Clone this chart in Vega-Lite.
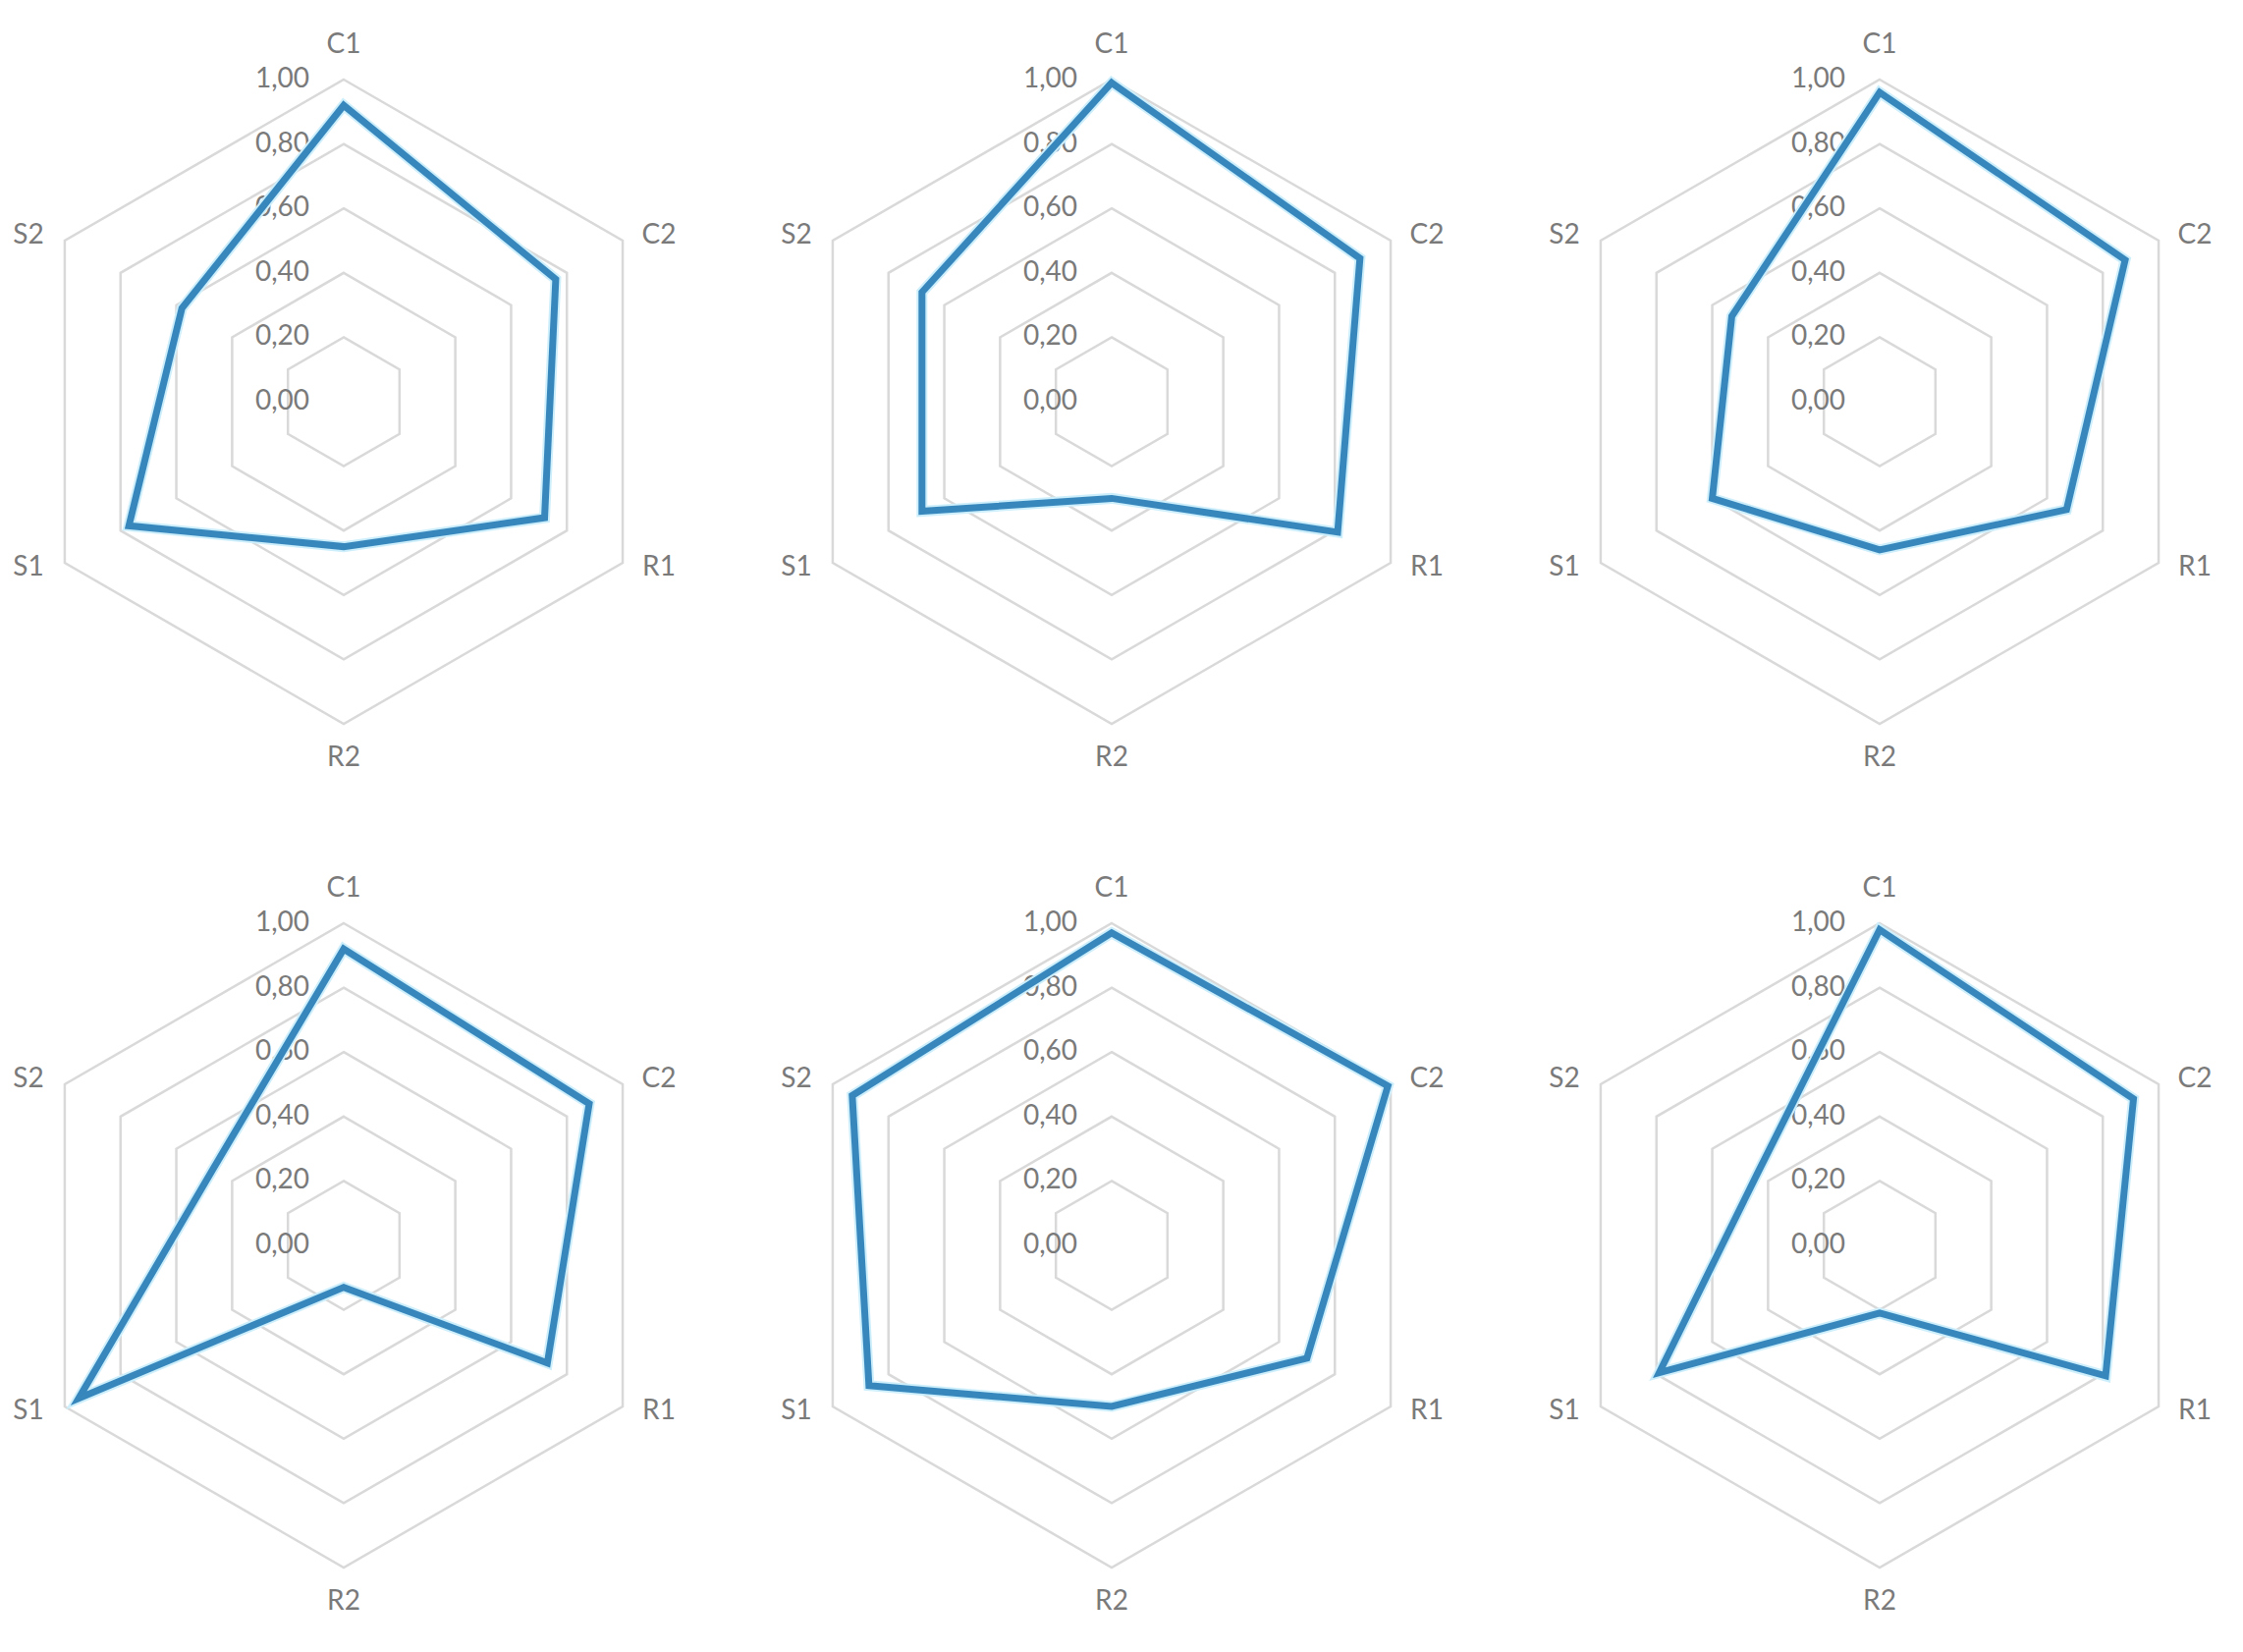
{
  "$schema": "https://vega.github.io/schema/vega-lite/v6.json",
  "padding": {"left": 0, "top": 18, "right": 0, "bottom": 0},
  "background": "white",
  "config": {"view": {"stroke": null}, "font": "Lato", "header": {"labels": false, "title": null, "labelPadding": 0, "titlePadding": 0, "labelFontSize": 0.01, "labelColor": "transparent", "labelExpr": "''"}},
  "datasets": {
    "scores": [
      {"panel": 1, "axis": "C1", "value": 0.92}, {"panel": 1, "axis": "C2", "value": 0.76}, {"panel": 1, "axis": "R1", "value": 0.72},
      {"panel": 1, "axis": "R2", "value": 0.45}, {"panel": 1, "axis": "S1", "value": 0.77}, {"panel": 1, "axis": "S2", "value": 0.58},
      {"panel": 2, "axis": "C1", "value": 0.99}, {"panel": 2, "axis": "C2", "value": 0.89}, {"panel": 2, "axis": "R1", "value": 0.81},
      {"panel": 2, "axis": "R2", "value": 0.30}, {"panel": 2, "axis": "S1", "value": 0.68}, {"panel": 2, "axis": "S2", "value": 0.68},
      {"panel": 3, "axis": "C1", "value": 0.96}, {"panel": 3, "axis": "C2", "value": 0.88}, {"panel": 3, "axis": "R1", "value": 0.67},
      {"panel": 3, "axis": "R2", "value": 0.46}, {"panel": 3, "axis": "S1", "value": 0.60}, {"panel": 3, "axis": "S2", "value": 0.53},
      {"panel": 4, "axis": "C1", "value": 0.92}, {"panel": 4, "axis": "C2", "value": 0.88}, {"panel": 4, "axis": "R1", "value": 0.73},
      {"panel": 4, "axis": "R2", "value": 0.13}, {"panel": 4, "axis": "S1", "value": 0.95}, {"panel": 4, "axis": "S2", "value": 0.47},
      {"panel": 5, "axis": "C1", "value": 0.97}, {"panel": 5, "axis": "C2", "value": 0.99}, {"panel": 5, "axis": "R1", "value": 0.70},
      {"panel": 5, "axis": "R2", "value": 0.50}, {"panel": 5, "axis": "S1", "value": 0.87}, {"panel": 5, "axis": "S2", "value": 0.93},
      {"panel": 6, "axis": "C1", "value": 0.98}, {"panel": 6, "axis": "C2", "value": 0.91}, {"panel": 6, "axis": "R1", "value": 0.81},
      {"panel": 6, "axis": "R2", "value": 0.21}, {"panel": 6, "axis": "S1", "value": 0.79}, {"panel": 6, "axis": "S2", "value": 0.44}
    ],
    "grid": [
      {"level": 0.2, "axis": "C1"}, {"level": 0.2, "axis": "C2"}, {"level": 0.2, "axis": "R1"}, {"level": 0.2, "axis": "R2"}, {"level": 0.2, "axis": "S1"}, {"level": 0.2, "axis": "S2"},
      {"level": 0.4, "axis": "C1"}, {"level": 0.4, "axis": "C2"}, {"level": 0.4, "axis": "R1"}, {"level": 0.4, "axis": "R2"}, {"level": 0.4, "axis": "S1"}, {"level": 0.4, "axis": "S2"},
      {"level": 0.6, "axis": "C1"}, {"level": 0.6, "axis": "C2"}, {"level": 0.6, "axis": "R1"}, {"level": 0.6, "axis": "R2"}, {"level": 0.6, "axis": "S1"}, {"level": 0.6, "axis": "S2"},
      {"level": 0.8, "axis": "C1"}, {"level": 0.8, "axis": "C2"}, {"level": 0.8, "axis": "R1"}, {"level": 0.8, "axis": "R2"}, {"level": 0.8, "axis": "S1"}, {"level": 0.8, "axis": "S2"},
      {"level": 1.0, "axis": "C1"}, {"level": 1.0, "axis": "C2"}, {"level": 1.0, "axis": "R1"}, {"level": 1.0, "axis": "R2"}, {"level": 1.0, "axis": "S1"}, {"level": 1.0, "axis": "S2"}
    ],
    "ticks": [
      {"level": 0.0, "label": "0,00"}, {"level": 0.2, "label": "0,20"}, {"level": 0.4, "label": "0,40"},
      {"level": 0.6, "label": "0,60"}, {"level": 0.8, "label": "0,80"}, {"level": 1.0, "label": "1,00"}
    ]
  },
  "data": {"name": "scores"},
  "facet": {"field": "panel", "type": "ordinal", "title": null, "header": {"labels": false, "title": null, "labelExpr": "''", "labelFontSize": 0.01}},
  "columns": 3,
  "spacing": {"row": 78, "column": 82},
  "spec": {
    "width": 700,
    "height": 780,
    "layer": [
      {
        "data": {"name": "grid"},
        "transform": [
          {"calculate": "indexof(['C1','C2','R1','R2','S1','S2'], datum.axis)", "as": "i"},
          {"calculate": "datum.level * sin(datum.i * PI / 3)", "as": "px"},
          {"calculate": "datum.level * cos(datum.i * PI / 3)", "as": "py"}
        ],
        "mark": {"type": "line", "interpolate": "linear-closed", "stroke": "#d9d9d9", "strokeWidth": 2.5},
        "encoding": {
          "x": {"field": "px", "type": "quantitative", "scale": {"domain": [-1.067, 1.067], "nice": false, "zero": false}, "axis": null},
          "y": {"field": "py", "type": "quantitative", "scale": {"domain": [-1.189, 1.189], "nice": false, "zero": false}, "axis": null},
          "detail": {"field": "level", "type": "nominal"},
          "order": {"field": "i", "type": "quantitative"}
        }
      },
      {
        "data": {"name": "ticks"},
        "mark": {"type": "text", "align": "right", "baseline": "middle", "dx": -35, "fontSize": 28, "color": "#7a7a7a"},
        "encoding": {
          "x": {"datum": 0, "type": "quantitative"},
          "y": {"field": "level", "type": "quantitative"},
          "text": {"field": "label", "type": "nominal"}
        }
      },
      {
        "transform": [
          {"calculate": "indexof(['C1','C2','R1','R2','S1','S2'], datum.axis)", "as": "i"},
          {"calculate": "datum.value * sin(datum.i * PI / 3)", "as": "px"},
          {"calculate": "datum.value * cos(datum.i * PI / 3)", "as": "py"}
        ],
        "mark": {"type": "line", "interpolate": "linear-closed", "stroke": "#cdeefb", "strokeWidth": 11},
        "encoding": {
          "x": {"field": "px", "type": "quantitative"},
          "y": {"field": "py", "type": "quantitative"},
          "order": {"field": "i", "type": "quantitative"}
        }
      },
      {
        "transform": [
          {"calculate": "indexof(['C1','C2','R1','R2','S1','S2'], datum.axis)", "as": "i"},
          {"calculate": "datum.value * sin(datum.i * PI / 3)", "as": "px"},
          {"calculate": "datum.value * cos(datum.i * PI / 3)", "as": "py"}
        ],
        "mark": {"type": "line", "interpolate": "linear-closed", "stroke": "#3787BD", "strokeWidth": 7},
        "encoding": {
          "x": {"field": "px", "type": "quantitative"},
          "y": {"field": "py", "type": "quantitative"},
          "order": {"field": "i", "type": "quantitative"}
        }
      },
      {
        "transform": [
          {"calculate": "indexof(['C1','C2','R1','R2','S1','S2'], datum.axis)", "as": "i"},
          {"calculate": "1.13 * sin(datum.i * PI / 3)", "as": "lx"},
          {"calculate": "cos(datum.i * PI / 3) * (datum.i % 3 == 0 ? 1.107 : 1.03)", "as": "ly"}
        ],
        "mark": {"type": "text", "align": "center", "baseline": "middle", "fontSize": 28, "color": "#7a7a7a"},
        "encoding": {
          "x": {"field": "lx", "type": "quantitative"},
          "y": {"field": "ly", "type": "quantitative"},
          "text": {"field": "axis", "type": "nominal"}
        }
      }
    ]
  }
}
